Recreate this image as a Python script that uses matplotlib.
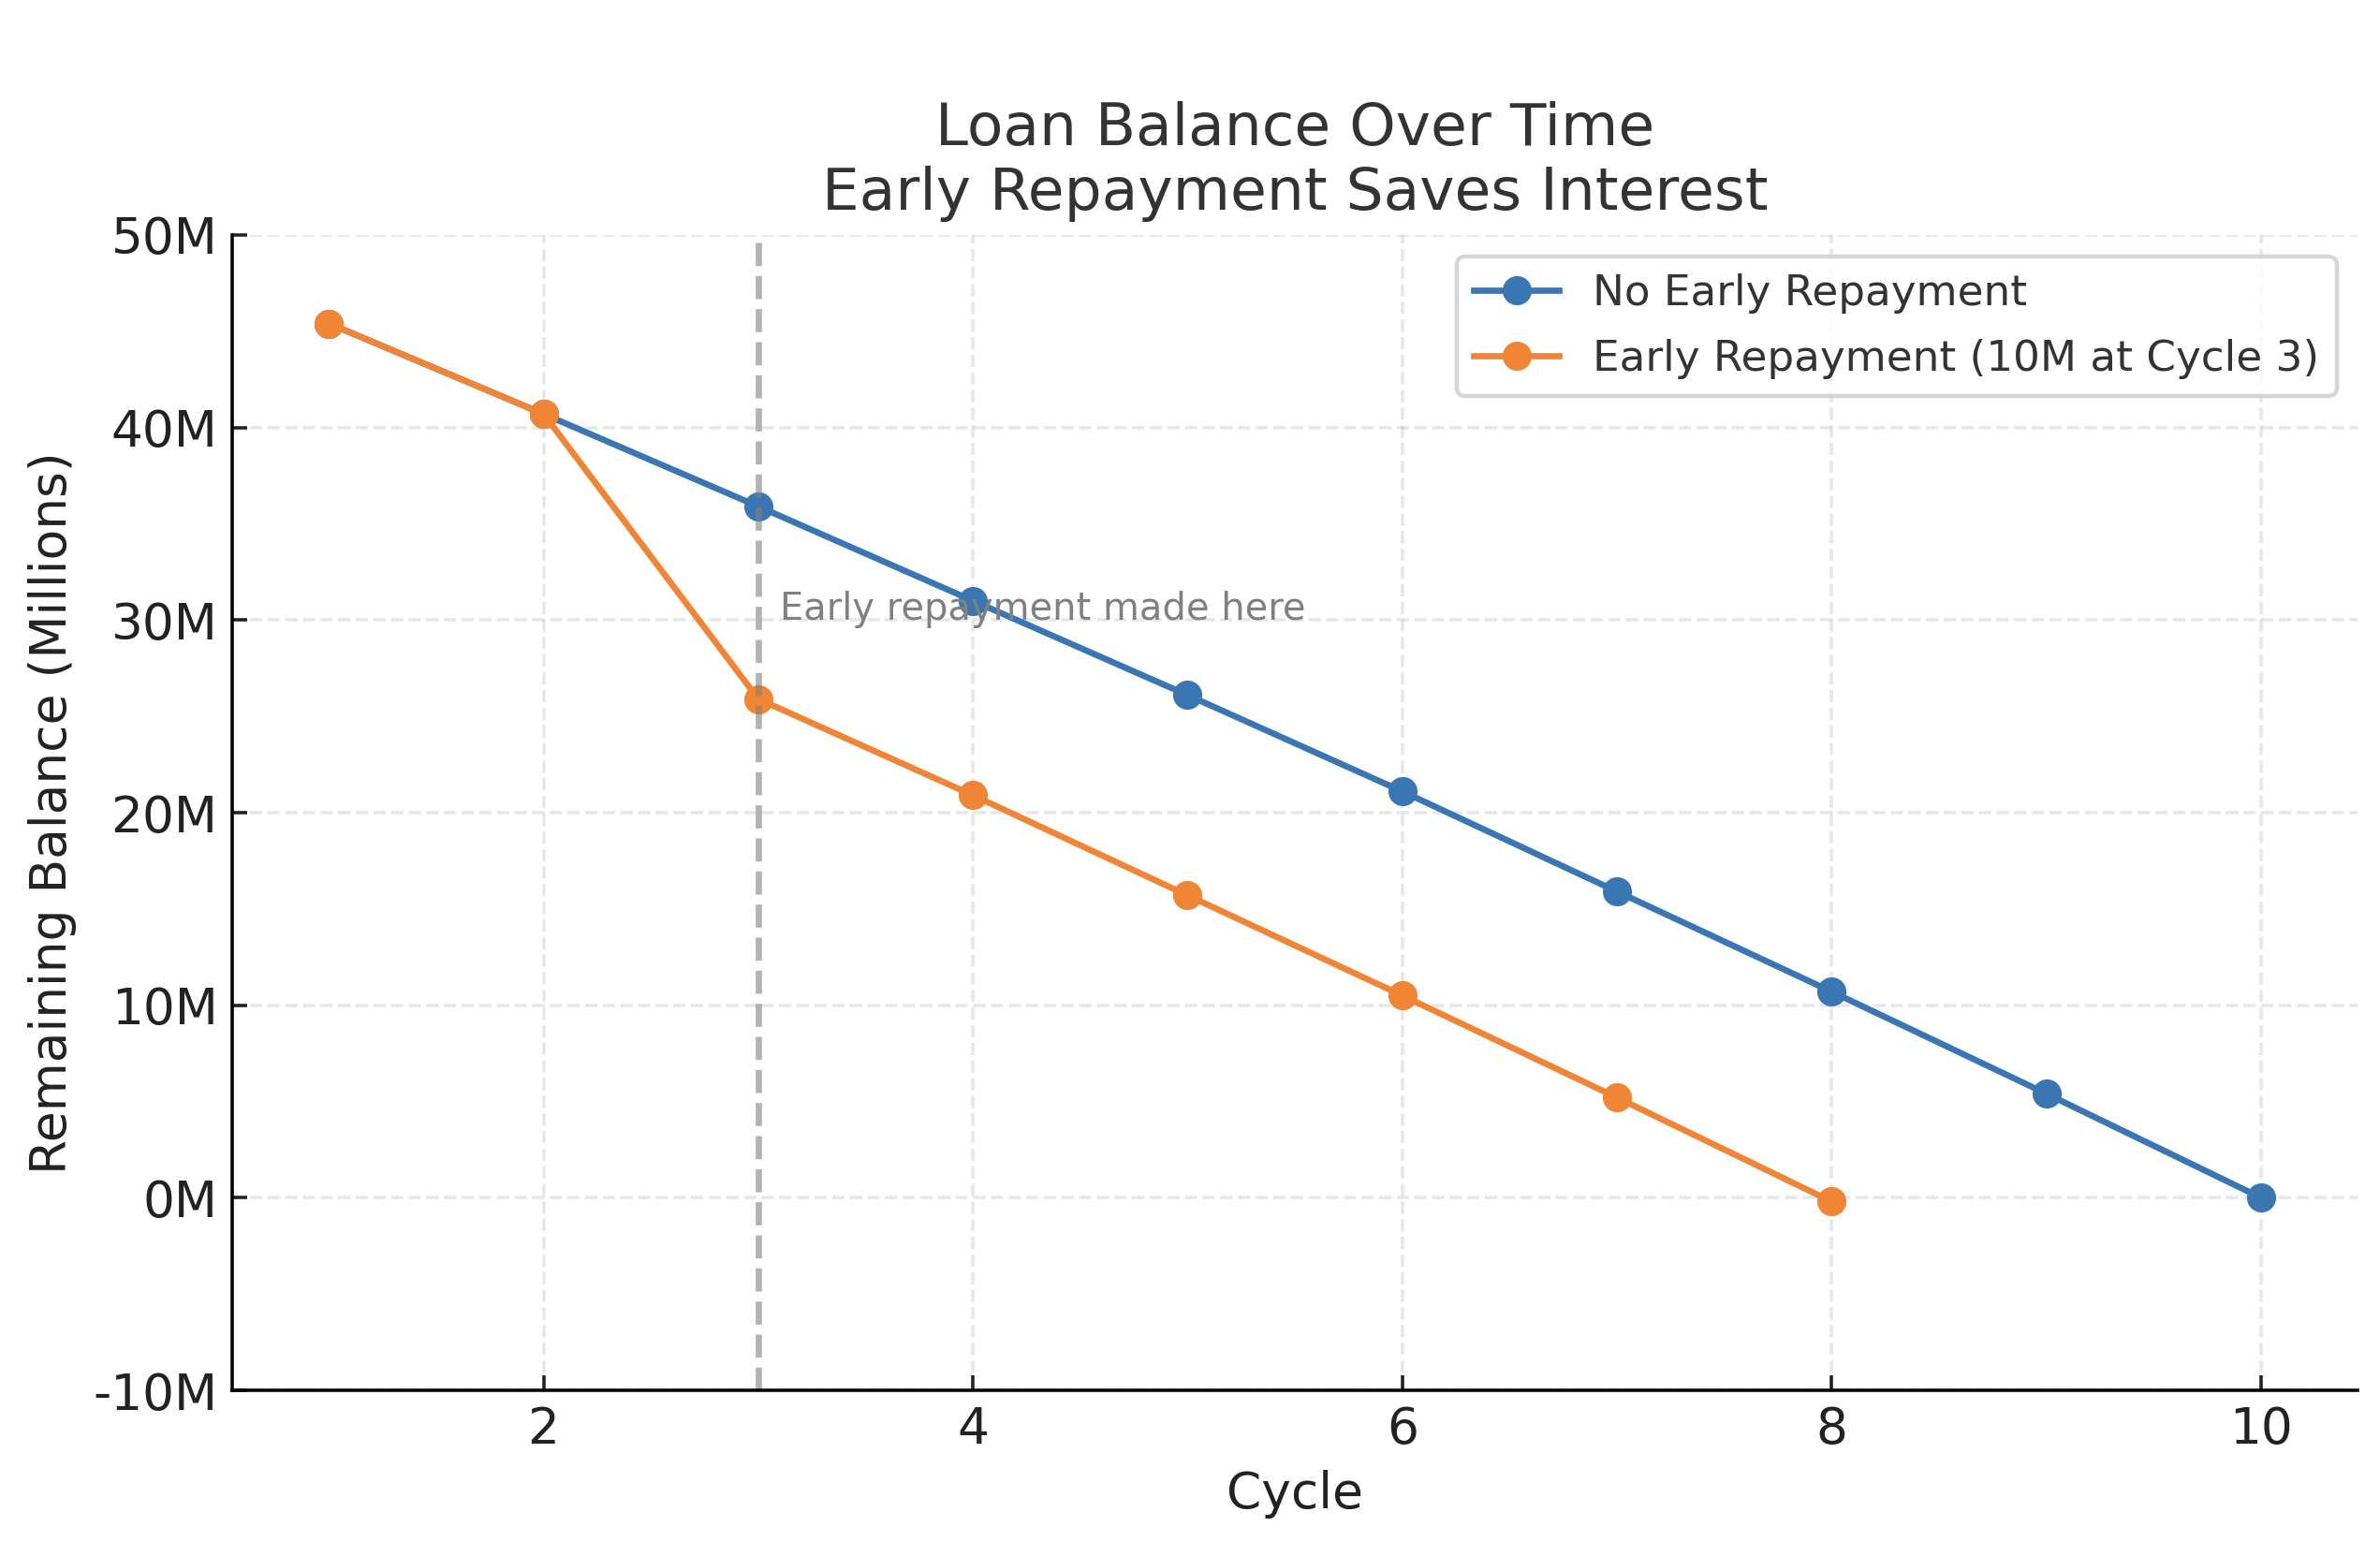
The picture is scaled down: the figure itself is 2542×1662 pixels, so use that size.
import matplotlib.pyplot as plt
from matplotlib.ticker import FuncFormatter

# Data (balances in millions)
cycles = [1, 2, 3, 4, 5, 6, 7, 8, 9, 10]
balance_no_early = [45.4, 40.7, 35.9, 31.0, 26.1, 21.1, 15.9, 10.7, 5.4, 0.0]

cycles_early = [1, 2, 3, 4, 5, 6, 7, 8]
balance_early = [45.4, 40.7, 25.9, 20.9, 15.7, 10.5, 5.2, -0.2]

repay_cycle = 3
y_ticks = [-10, 0, 10, 20, 30, 40, 50]

blue = '#3a76b3'
orange = '#ef8535'

fig, ax = plt.subplots(figsize=(7.944, 5.194), dpi=320)
fig.subplots_adjust(left=0.0976, right=0.9906, top=0.849, bottom=0.1065)

ax.plot(cycles, balance_no_early, marker='o', color=blue, label='No Early Repayment')
ax.plot(cycles_early, balance_early, marker='o', color=orange,
        label='Early Repayment (10M at Cycle 3)')

ax.axvline(repay_cycle, color='gray', linestyle='--', alpha=0.6, lw=1.5)
ax.text(repay_cycle + 0.1, 30, 'Early repayment made here', color='gray', fontsize=9)

ax.set_title('Loan Balance Over Time\nEarly Repayment Saves Interest',
             fontsize=14.2, color='#333333')
ax.set_xlabel('Cycle', fontsize=12, color='#222222')
ax.set_ylabel('Remaining Balance (Millions)', fontsize=12, color='#222222')

ax.set_ylim(-10, 50)
ax.set_yticks(y_ticks)
ax.yaxis.set_major_formatter(FuncFormatter(lambda v, p: f'{v:.0f}M'))
ax.tick_params(labelsize=12, direction='in', colors='#222222')

ax.grid(True, linestyle='--', alpha=0.3)
ax.spines['top'].set_visible(False)
ax.spines['right'].set_visible(False)

leg = ax.legend(loc='upper right', fontsize=10.2, labelspacing=0.6)
for t in leg.get_texts():
    t.set_color('#333333')

plt.savefig('out.png', dpi=320)
